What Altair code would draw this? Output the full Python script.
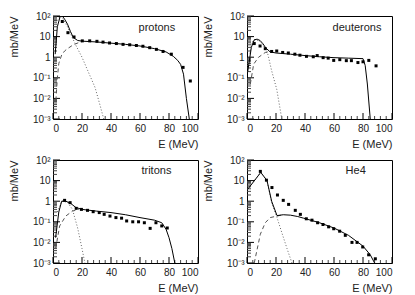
import altair as alt
import pandas as pd

# ---------------- data ----------------
# protons
P_pts_E = [6.4, 10.3, 14.5, 20.2, 25.3, 30.3, 34.5, 39, 43.7, 48.3, 52.9, 57.5, 62, 66.7, 71.3, 75.9, 81.6, 89.7, 94.7]
P_pts_V = [54, 15.5, 9.6, 6.2, 6.2, 5.9, 5.4, 4.9, 4.6, 4.2, 4.0, 3.7, 3.4, 2.9, 2.4, 1.9, 1.4, 0.32, 0.07]
P_sol_E = [1.5, 3, 5, 6, 8, 10, 12, 14, 17, 20, 30, 40, 50, 60, 70, 78, 83, 86, 88, 90, 92, 94]
P_sol_V = [1.4, 30, 100, 110, 70, 40, 18, 9, 6.5, 6, 5.5, 4.8, 4.2, 3.5, 2.6, 1.8, 1.1, 0.7, 0.45, 0.15, 0.01, 0.001]
P_dash_E = [2, 3, 4, 6, 8, 10, 14, 18, 21]
P_dash_V = [0.008, 0.1, 0.5, 1.3, 2, 2.6, 4, 5.2, 6]
P_dot_E = [3, 5, 7, 10, 13, 16, 20, 24, 29, 32, 35]
P_dot_V = [60, 100, 70, 30, 10, 3.5, 1, 0.22, 0.034, 0.006, 0.001]

# deuterons
D_pts_E = [5, 9, 12.6, 17, 20.5, 24.6, 28.5, 33, 36.5, 41, 45.7, 48.4, 52.5, 56, 59.8, 64, 68.5, 72, 76.5, 80, 84, 89]
D_pts_V = [4.6, 3.5, 2.6, 1.9, 2.0, 1.7, 1.6, 1.4, 1.25, 1.1, 1.05, 1.2, 0.95, 0.9, 0.7, 0.76, 0.68, 0.68, 0.55, 0.6, 0.7, 0.38]
D_sol_E = [0.5, 3, 5, 7, 9, 11, 13, 16, 20, 30, 40, 50, 60, 70, 80, 81.5, 83, 85]
D_sol_V = [0.2, 3, 7, 7.5, 6.5, 4.5, 2.8, 1.8, 1.6, 1.4, 1.2, 1.05, 0.95, 0.9, 0.85, 0.4, 0.05, 0.001]
D_dash_E = [2.3, 4.6, 8, 12.6, 16]
D_dash_V = [0.05, 0.46, 1, 1.7, 1.75]
D_dot_E = [2, 3, 5, 8, 11, 14, 17, 20.5, 24]
D_dot_V = [1.5, 5, 7, 6.5, 4, 1.8, 0.22, 0.028, 0.001]

# tritons
T_pts_E = [8, 11.8, 16, 19.6, 23.8, 27.7, 31.9, 35.3, 39.3, 43.4, 47.3, 50.8, 55, 59, 63, 67, 71, 75, 78.8]
T_pts_V = [1.1, 0.85, 0.45, 0.4, 0.36, 0.31, 0.28, 0.23, 0.19, 0.16, 0.15, 0.11, 0.1, 0.1, 0.09, 0.048, 0.09, 0.063, 0.05]
T_sol_E = [1.8, 4, 6, 8.8, 12, 15.7, 20, 30, 40, 50, 60, 70, 75, 78, 80, 82, 84]
T_sol_V = [0.017, 0.3, 1, 1, 0.8, 0.5, 0.4, 0.33, 0.28, 0.22, 0.16, 0.12, 0.09, 0.043, 0.017, 0.005, 0.001]
T_dash_E = [1.8, 4.6, 8.8, 13.4, 18]
T_dash_V = [0.005, 0.063, 0.19, 0.33, 0.4]
T_dot_E = [3, 6, 10, 13.4, 17, 20, 22]
T_dot_V = [0.3, 1, 0.9, 0.4, 0.05, 0.005, 0.001]

# He4
H_pts_E = [9.2, 13.4, 17.2, 21, 25, 28.7, 33.3, 36.8, 40.9, 44.8, 48.7, 52.4, 56.3, 59.8, 63.9, 67.8, 72.4, 75.9, 79.8, 83.9, 88.5]
H_pts_V = [28, 10.5, 4.6, 2, 1.1, 0.7, 0.36, 0.23, 0.14, 0.12, 0.09, 0.074, 0.057, 0.046, 0.035, 0.022, 0.01, 0.01, 0.006, 0.0025, 0.0016]
H_sol_E = [0.5, 9.5, 13.8, 17, 20.7, 25, 30, 35, 39, 50, 60, 70, 80, 85, 88]
H_sol_V = [3.8, 25, 10, 1, 0.2, 0.22, 0.21, 0.18, 0.15, 0.09, 0.05, 0.022, 0.0066, 0.0025, 0.001]
H_dash_E = [5, 9.2, 12.6, 16, 20.7, 25]
H_dash_V = [0.001, 0.025, 0.09, 0.16, 0.19, 0.22]
H_dot_E = [0.5, 9.5, 13.8, 17, 20.7, 24, 27.6, 31]
H_dot_V = [3.8, 25, 10, 0.8, 0.16, 0.03, 0.005, 0.001]

# axis ticks
x_major = [0, 20, 40, 60, 80, 100]
x_minor = [4, 8, 12, 16, 24, 28, 32, 36, 44, 48, 52, 56, 64, 68, 72, 76, 84, 88, 92, 96]
y_major = [0.001, 0.01, 0.1, 1, 10, 100]
y_minor = [k * 10.0 ** d for d in range(-3, 2) for k in range(2, 10)]

W, H = 145, 103
FONT = "Liberation Sans"

xs = alt.Scale(domain=[0, 100], nice=False)
ys = alt.Scale(type="log", domain=[0.001, 100], nice=False)

label_expr = ("datum.value == 100 ? '10²' : datum.value == 10 ? '10' : datum.value == 1 ? '1' : "
              "datum.value == 0.1 ? '10⁻¹' : datum.value == 0.01 ? '10⁻²' : '10⁻³'")

x_axis = alt.Axis(values=x_major, ticks=False, domain=False, grid=False, format="d",
                  title="E (MeV)", titleAnchor="end", titleFontWeight="normal",
                  titleFontSize=11, titleFont=FONT, labelFont=FONT, labelFontSize=10,
                  labelPadding=4, titlePadding=5, labelColor="#222222", titleColor="#222222")
y_axis = alt.Axis(values=y_major, labelExpr=label_expr, ticks=False, domain=False, grid=False,
                  title="mb/MeV", titleAnchor="end", titleFontWeight="normal",
                  titleFontSize=11, titleFont=FONT, labelFont=FONT, labelFontSize=10,
                  labelPadding=3, titlePadding=13, labelColor="#222222", titleColor="#222222")


def X():
    return alt.X("E:Q", scale=xs, axis=x_axis)


def Y():
    return alt.Y("V:Q", scale=ys, axis=y_axis)


def panel(name, pE, pV, sE, sV, dE, dV, oE, oV, lab_E, lab_V):
    pts = pd.DataFrame({"E": pE, "V": pV})
    sol = pd.DataFrame({"E": sE, "V": sV, "o": range(len(sE))})
    dsh = pd.DataFrame({"E": dE, "V": dV, "o": range(len(dE))})
    dot = pd.DataFrame({"E": oE, "V": oV, "o": range(len(oE))})

    yt_major = alt.Chart(pd.DataFrame({"V": y_major})).mark_rule(color="black", strokeWidth=1).encode(
        y=Y(), x=alt.value(0), x2=alt.value(7))
    yt_minor = alt.Chart(pd.DataFrame({"V": y_minor})).mark_rule(color="#444444", strokeWidth=1).encode(
        y=Y(), x=alt.value(0), x2=alt.value(4))
    xt_major = alt.Chart(pd.DataFrame({"E": x_major})).mark_rule(color="black", strokeWidth=1).encode(
        x=X(), y=alt.value(H), y2=alt.value(H - 6))
    xt_minor = alt.Chart(pd.DataFrame({"E": x_minor})).mark_rule(color="#444444", strokeWidth=1).encode(
        x=X(), y=alt.value(H), y2=alt.value(H - 3))

    def line(df, color, dash, width):
        kw = dict(color=color, strokeWidth=width, clip=True)
        if dash:
            kw["strokeDash"] = dash
        return alt.Chart(df).mark_line(**kw).encode(x=X(), y=Y(), order="o:Q")

    l_dot = line(dot, "#666666", [1, 2], 1)
    l_dash = line(dsh, "#555555", [4, 3], 1)
    l_sol = line(sol, "black", None, 1)
    p = alt.Chart(pts).mark_point(shape="square", filled=True, size=9, color="black", opacity=1, clip=True).encode(
        x=X(), y=Y())
    txt = alt.Chart(pd.DataFrame({"E": [lab_E], "V": [lab_V], "t": [name]})).mark_text(
        align="left", baseline="middle", font=FONT, fontSize=11, color="#222222").encode(
        x=X(), y=Y(), text="t:N")

    return alt.layer(yt_major, yt_minor, xt_major, xt_minor, l_dot, l_dash, l_sol, p, txt).properties(
        width=W, height=H)


c1 = panel("protons", P_pts_E, P_pts_V, P_sol_E, P_sol_V, P_dash_E, P_dash_V, P_dot_E, P_dot_V, 59, 26)
c2 = panel("deuterons", D_pts_E, D_pts_V, D_sol_E, D_sol_V, D_dash_E, D_dash_V, D_dot_E, D_dot_V, 59, 26)
c3 = panel("tritons", T_pts_E, T_pts_V, T_sol_E, T_sol_V, T_dash_E, T_dash_V, T_dot_E, T_dot_V, 61, 30)
c4 = panel("He4", H_pts_E, H_pts_V, H_sol_E, H_sol_V, H_dash_E, H_dash_V, H_dot_E, H_dot_V, 68, 30)

chart = alt.vconcat(
    alt.hconcat(c1, c2, spacing=3),
    alt.hconcat(c3, c4, spacing=3),
    spacing=4,
).properties(
    padding={"left": 0, "top": 2, "right": 0, "bottom": 0},
    background="white",
).configure_view(stroke="black", strokeWidth=1)

chart.save("out.html", embed_options={"renderer": "svg", "actions": False})
